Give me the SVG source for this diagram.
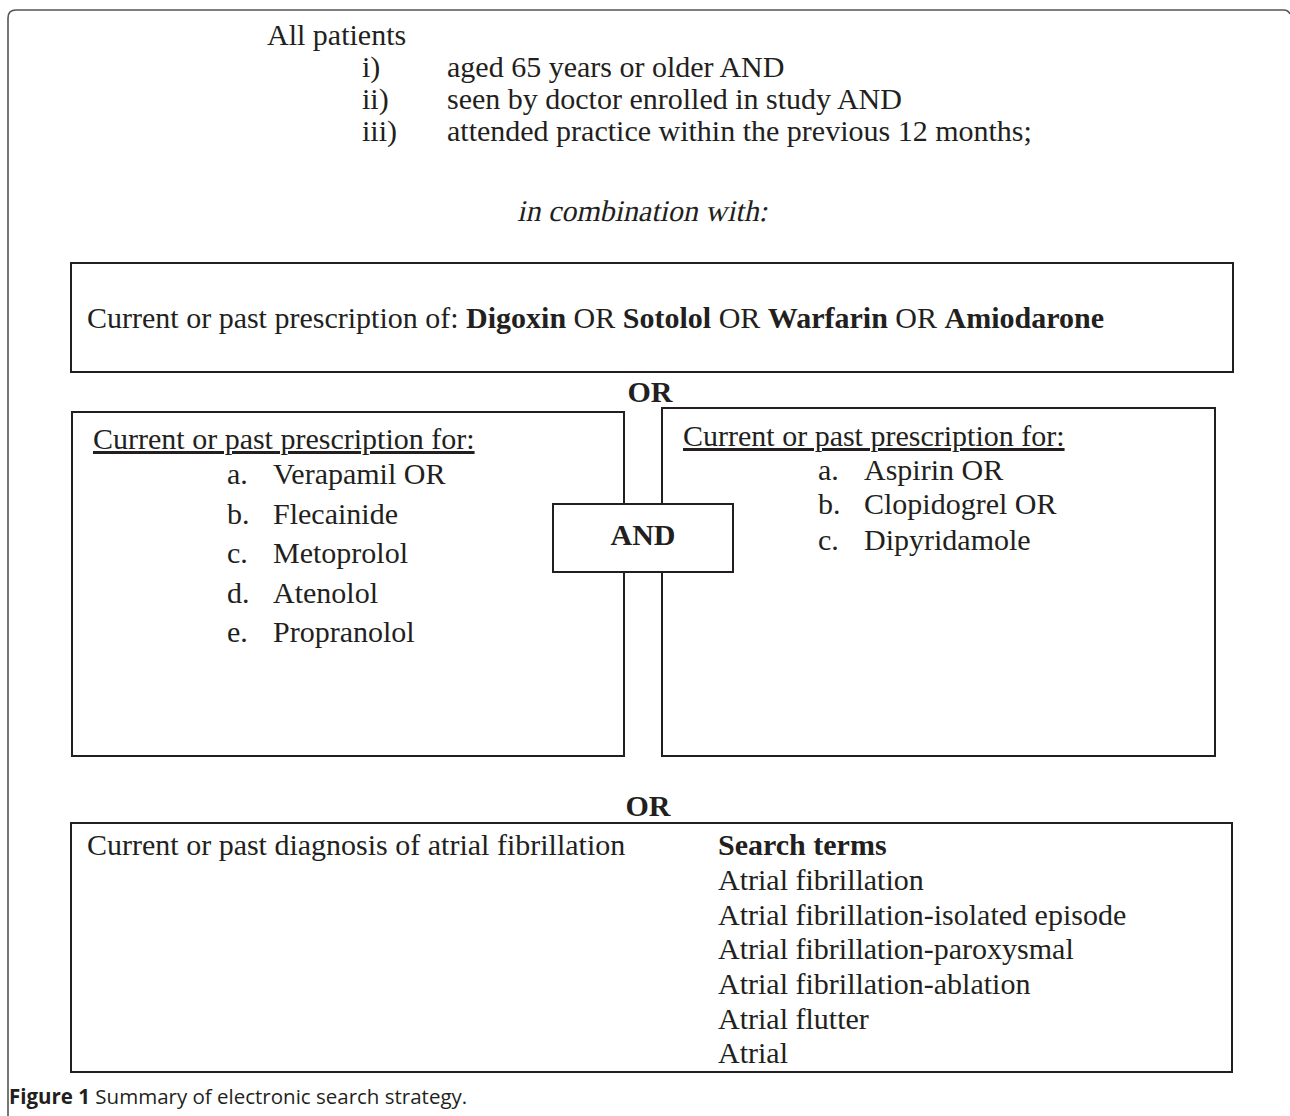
<svg xmlns="http://www.w3.org/2000/svg" width="1290" height="1116" viewBox="0 0 1290 1116">
<style>
.t{font-family:"Liberation Serif","Times New Roman",serif;font-size:30px;fill:#231f20}
.b{font-weight:bold}
.u{text-decoration:underline}
.box{fill:#fff;stroke:#231f20;stroke-width:2}
.cap{font-family:"Open Sans","Liberation Sans",sans-serif;font-size:20.5px;fill:#231f20}
</style>
<rect width="1290" height="1116" fill="#fff"/>
<path d="M8,1116 V18 Q8,10 16,10 H1284 Q1288,10 1290,14" fill="none" stroke="#555" stroke-width="1.6"/>

<g id="criteria">
<text class="t" x="267" y="45">All patients</text>
<text class="t" x="362" y="77">i)</text><text class="t" x="447" y="77">aged 65 years or older AND</text>
<text class="t" x="362" y="109">ii)</text><text class="t" x="447" y="109">seen by doctor enrolled in study AND</text>
<text class="t" x="362" y="141">iii)</text><text class="t" x="447" y="141">attended practice within the previous 12 months;</text>
<text class="t" x="689" y="221" transform="skewX(-12)" text-anchor="middle" font-size="31">in combination with:</text>
</g>

<g id="connectors"></g>

<g id="prescription-of">
<rect class="box" x="71" y="263" width="1162" height="109"/>
<text class="t" x="87" y="328">Current or past prescription of: <tspan class="b">Digoxin</tspan> OR <tspan class="b">Sotolol</tspan> OR <tspan class="b">Warfarin</tspan> OR <tspan class="b">Amiodarone</tspan></text>
</g>

<text id="or1" class="t b" x="650" y="402" text-anchor="middle">OR</text>

<g id="left-box">
<rect class="box" x="72" y="412" width="552" height="344"/>
<text class="t u" x="93" y="449">Current or past prescription for:</text>
<text class="t" x="227" y="484">a.</text><text class="t" x="273" y="484">Verapamil OR</text>
<text class="t" x="227" y="524">b.</text><text class="t" x="273" y="524">Flecainide</text>
<text class="t" x="227" y="563">c.</text><text class="t" x="273" y="563">Metoprolol</text>
<text class="t" x="227" y="603">d.</text><text class="t" x="273" y="603">Atenolol</text>
<text class="t" x="227" y="642">e.</text><text class="t" x="273" y="642">Propranolol</text>
</g>

<g id="right-box">
<rect class="box" x="662" y="408" width="553" height="348"/>
<text class="t u" x="683" y="446">Current or past prescription for:</text>
<text class="t" x="818" y="480">a.</text><text class="t" x="864" y="480">Aspirin OR</text>
<text class="t" x="818" y="514">b.</text><text class="t" x="864" y="514">Clopidogrel OR</text>
<text class="t" x="818" y="550">c.</text><text class="t" x="864" y="550">Dipyridamole</text>
</g>

<g id="and-box">
<rect class="box" x="553" y="504" width="180" height="68"/>
<text class="t b" x="643" y="545" text-anchor="middle">AND</text>
</g>

<text id="or2" class="t b" x="648" y="816" text-anchor="middle">OR</text>

<g id="diagnosis">
<rect class="box" x="71" y="823" width="1161" height="249"/>
<text class="t" x="87" y="855">Current or past diagnosis of atrial fibrillation</text>
<text class="t b" x="718" y="855">Search terms</text>
<text class="t" x="718" y="890">Atrial fibrillation</text>
<text class="t" x="718" y="925">Atrial fibrillation-isolated episode</text>
<text class="t" x="718" y="959">Atrial fibrillation-paroxysmal</text>
<text class="t" x="718" y="994">Atrial fibrillation-ablation</text>
<text class="t" x="718" y="1029">Atrial flutter</text>
<text class="t" x="718" y="1063">Atrial</text>
</g>

<text id="caption" class="cap" x="9" y="1104"><tspan font-weight="bold">Figure 1</tspan> Summary of electronic search strategy.</text>
</svg>
